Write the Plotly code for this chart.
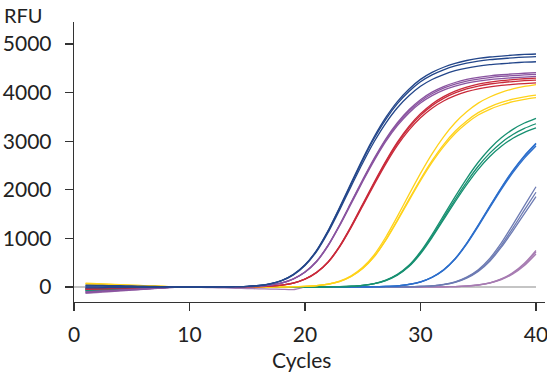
import plotly.graph_objects as go

cycles = list(range(1, 41))

# dark blue replicates
db1 = [40,35,30,25,20,15,10,5,0,0,0,0,2,7,14,31,67,134,259,456,754,1162,1642,2146,2640,3096,3490,3816,4070,4272,4416,4522,4603,4661,4704,4733,4752,4771,4786,4795]
db2 = [20,17,15,12,10,7,5,2,0,0,0,0,2,7,14,31,66,133,256,451,745,1149,1623,2121,2610,3060,3450,3772,4023,4223,4365,4470,4550,4607,4650,4679,4697,4716,4731,4740]
db3 = [-20,-17,-15,-12,-10,-7,-5,-2,0,0,0,0,2,7,14,30,65,130,250,441,729,1123,1587,2075,2552,2993,3374,3689,3934,4130,4269,4371,4450,4506,4547,4575,4594,4612,4627,4635]
# purple
pu1 = [-100,-88,-75,-62,-50,-38,-25,-12,0,0,0,0,0,4,9,18,40,84,168,309,530,862,1282,1746,2210,2652,3050,3381,3647,3854,4009,4124,4208,4270,4314,4345,4367,4385,4398,4411]
pu2 = [-110,-96,-82,-69,-55,-41,-27,-14,0,0,0,0,0,4,9,18,40,83,167,307,526,855,1272,1732,2192,2631,3026,3354,3618,3823,3977,4091,4174,4236,4279,4310,4332,4350,4363,4376]
pu3 = [-120,-105,-90,-75,-60,-45,-30,-15,0,0,0,0,0,4,9,18,39,82,165,303,520,846,1259,1715,2170,2604,2995,3320,3581,3785,3937,4050,4132,4193,4236,4267,4288,4306,4319,4332]
# red
rd1 = [-30,-26,-22,-19,-15,-11,-8,-4,0,0,0,0,0,0,4,9,17,39,82,164,302,518,842,1253,1706,2160,2592,2981,3305,3564,3767,3918,4031,4113,4173,4216,4247,4268,4285,4298]
rd2 = [-40,-35,-30,-25,-20,-15,-10,-5,0,0,0,0,0,0,4,9,17,39,81,162,299,513,834,1241,1690,2140,2568,2953,3274,3531,3732,3882,3993,4075,4134,4177,4207,4228,4245,4258]
rd3 = [-50,-44,-38,-31,-25,-19,-12,-6,0,0,0,0,0,0,4,9,17,38,80,160,295,506,823,1224,1667,2110,2532,2912,3228,3482,3680,3828,3938,4018,4077,4119,4149,4169,4186,4199]
# yellow
ye1 = [80,70,60,50,40,30,20,10,0,0,0,0,0,0,0,0,0,2,6,13,28,60,119,230,404,667,1029,1454,1900,2338,2741,3090,3379,3604,3783,3910,4004,4076,4127,4165]
ye2 = [70,61,52,44,35,26,17,9,0,0,0,0,0,0,0,0,0,2,6,12,27,57,113,218,383,632,976,1379,1802,2217,2599,2930,3204,3417,3587,3707,3797,3865,3913,3949]
ye3 = [60,52,45,38,30,22,15,8,0,0,0,0,0,0,0,0,0,2,6,12,26,56,111,215,378,624,962,1360,1777,2187,2564,2890,3160,3371,3538,3657,3745,3812,3860,3896]
# green
gr1 = [-60,-52,-45,-38,-30,-22,-15,-8,0,0,0,0,0,0,0,0,0,0,0,0,0,4,7,15,33,71,141,260,446,725,1079,1469,1860,2232,2567,2846,3069,3244,3374,3471]
gr2 = [-70,-61,-52,-44,-35,-26,-17,-9,0,0,0,0,0,0,0,0,0,0,0,0,0,4,7,15,32,68,137,252,432,702,1044,1422,1800,2160,2484,2754,2970,3139,3265,3359]
gr3 = [-80,-70,-60,-50,-40,-30,-20,-10,0,0,0,0,0,0,0,0,0,0,0,0,0,4,7,14,32,67,133,245,421,684,1018,1386,1755,2106,2422,2685,2896,3061,3183,3275]
# blue
bl1 = [-10,-9,-8,-6,-5,-4,-2,-1,0,0,0,0,0,0,0,0,0,0,0,0,0,0,0,0,2,6,11,24,52,104,201,353,584,900,1272,1663,2046,2399,2704,2957]
bl2 = [-30,-26,-22,-19,-15,-11,-8,-4,0,0,0,0,0,0,0,0,0,0,0,0,0,0,0,0,2,6,11,24,52,103,200,351,581,895,1265,1654,2035,2386,2689,2941]
bl3 = [-50,-44,-38,-31,-25,-19,-12,-6,0,0,0,0,0,0,0,0,0,0,0,0,0,0,0,0,2,6,11,24,51,102,197,346,573,883,1248,1632,2008,2354,2653,2901]
# slate
sl1 = [20,17,15,12,10,7,5,2,0,0,0,0,0,0,0,0,0,0,0,0,0,0,0,0,0,0,0,2,6,11,24,53,105,203,356,589,908,1283,1676,2063]
sl2 = [0,0,0,0,0,0,0,0,0,0,0,0,0,0,0,0,0,0,0,0,0,0,0,0,0,0,0,2,5,11,23,50,99,191,337,557,858,1212,1585,1950]
sl3 = [-40,-35,-30,-25,-20,-15,-10,-5,0,0,0,0,0,0,0,0,0,0,0,0,0,0,0,0,0,0,0,2,5,10,22,47,95,183,321,531,818,1156,1511,1859]
# light purple
lp1 = [-130,-114,-98,-81,-65,-49,-32,-16,0,0,0,0,0,0,0,0,0,0,0,0,0,0,0,0,0,0,0,0,0,0,2,5,9,20,43,87,167,295,487,750]
lp2 = [-90,-79,-68,-56,-45,-34,-22,-11,0,0,0,0,0,0,0,0,0,0,0,0,0,0,0,0,0,0,0,0,0,0,2,4,9,19,41,84,160,283,467,720]
lp3 = [-70,-61,-52,-44,-35,-26,-17,-9,0,-5,-10,-15,-20,-26,-32,-38,-43,-48,-53,-3,0,0,0,0,0,0,0,0,0,0,2,4,8,18,39,79,151,268,442,680]

groups = [
    ("#a77cb2", [lp1, lp2, lp3]),
    ("#6d7bb3", [sl1, sl2, sl3]),
    ("#2d6fcc", [bl1, bl2, bl3]),
    ("#179071", [gr1, gr2, gr3]),
    ("#ffd21a", [ye1, ye2, ye3]),
    ("#c92a3a", [rd1, rd2, rd3]),
    ("#8a54a0", [pu1, pu2, pu3]),
    ("#23468a", [db1, db2, db3]),
]

x_ticks = [0, 10, 20, 30, 40]
y_ticks = [0, 1000, 2000, 3000, 4000, 5000]

fig = go.Figure()
for color, series in groups:
    for s in series:
        fig.add_trace(go.Scatter(x=cycles, y=s, mode="lines",
                                 line=dict(color=color, width=1.3, shape="spline", smoothing=0.6),
                                 showlegend=False, hoverinfo="skip"))

FONT = "Lato, 'Open Sans', sans-serif"
axis_color = "#333333"
fig.update_layout(
    width=547, height=375,
    margin=dict(l=74, r=2, t=22, b=73, autoexpand=False),
    paper_bgcolor="white", plot_bgcolor="white",
    font=dict(family=FONT, size=21, color="#222222"),
    showlegend=False,
    xaxis=dict(range=[0, 40.78], tickvals=x_ticks, ticks="outside", ticklen=8,
               tickwidth=1.3, tickcolor=axis_color, showline=True, linecolor=axis_color,
               linewidth=1.3, showgrid=False, zeroline=False, ticklabelstandoff=5,
               ticklabeloverflow="allow", automargin=False),
    yaxis=dict(range=[-309, 5453], tickvals=y_ticks, ticks="outside", ticklen=8,
               tickwidth=1.3, tickcolor=axis_color, showline=True, linecolor=axis_color,
               linewidth=1.3, showgrid=False, zeroline=False, ticklabelstandoff=9,
               automargin=False),
    shapes=[dict(type="line", xref="paper", yref="y", x0=-0.017, x1=40/40.78, y0=0, y1=0,
                 line=dict(color="#b0b0b0", width=1.3), layer="below")],
    annotations=[
        dict(text="RFU", xref="paper", yref="paper", x=-0.153, y=1.075,
             xanchor="left", yanchor="top", showarrow=False, font=dict(size=20)),
        dict(text="Cycles", xref="paper", yref="paper", x=0.482, y=-0.207,
             xanchor="center", yanchor="middle", showarrow=False, font=dict(size=21)),
    ],
)

fig.write_html("out.html", config={"displayModeBar": False, "staticPlot": True},
               post_script="document.body.style.margin='0';document.body.style.padding='0';")
